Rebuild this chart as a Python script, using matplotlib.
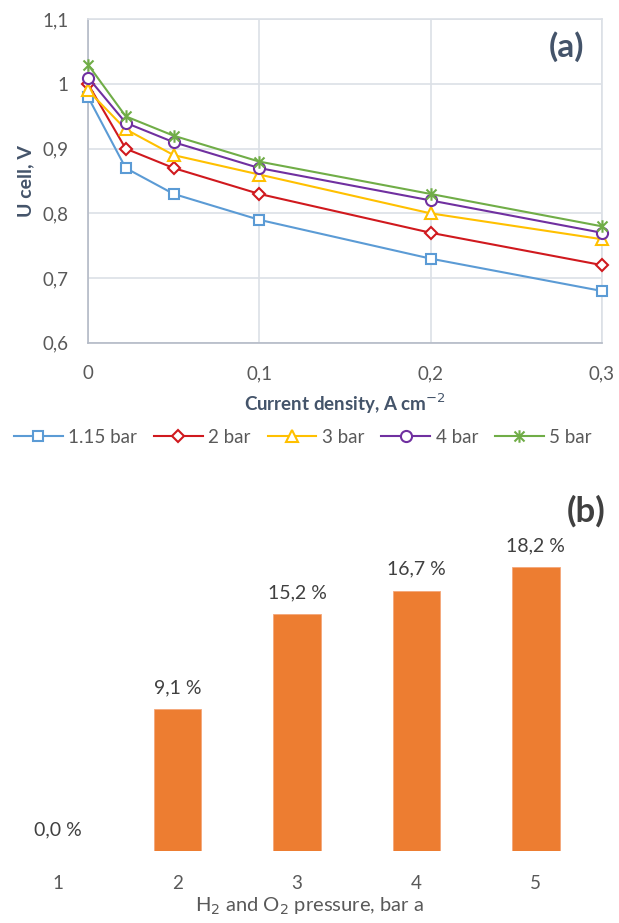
import numpy as np
import matplotlib
matplotlib.use("Agg")
import matplotlib.pyplot as plt
from matplotlib.path import Path
from matplotlib.ticker import FuncFormatter

plt.rcParams['font.family'] = ['Lato', 'DejaVu Sans']

# (a) polarisation curves
current = [0, 0.022, 0.05, 0.1, 0.2, 0.3]
u_115 = [0.98, 0.87, 0.83, 0.79, 0.73, 0.68]
u_2 = [1.00, 0.90, 0.87, 0.83, 0.77, 0.72]
u_3 = [0.99, 0.93, 0.89, 0.86, 0.80, 0.76]
u_4 = [1.01, 0.94, 0.91, 0.87, 0.82, 0.77]
u_5 = [1.03, 0.95, 0.92, 0.88, 0.83, 0.78]
series_labels = ['1.15 bar', '2 bar', '3 bar', '4 bar', '5 bar']

# (b) gain vs pressure
pressure = [1, 2, 3, 4, 5]
gain = [0.0, 9.1, 15.2, 16.7, 18.2]

TICK_C = '#595959'
TITLE_C = '#44546A'
GRID_C = '#DCE0E6'
SPINE_C = '#B4BAC6'
FS = 13.5

def comma(v, pos=None):
    return ('%g' % round(v, 3)).replace('.', ',')

# excel-like asterisk marker
star = Path([(-1, -1), (1, 1), (-1, 1), (1, -1), (0, -1.25), (0, 1.25)],
            [Path.MOVETO, Path.LINETO] * 3)

fig = plt.figure(figsize=(6.19, 9.23), dpi=100)

ax = fig.add_axes([0.1422, 0.6287, 0.830, 0.3504])
styles = [('#5B9BD5', 's', 7.5), ('#D0191E', 'D', 6.5), ('#FFC000', '^', 8),
          ('#7030A0', 'o', 8), ('#70AD47', star, 9)]
for ys, lab, (c, m, ms) in zip([u_115, u_2, u_3, u_4, u_5], series_labels, styles):
    ax.plot(current, ys, color=c, lw=1.5, marker=m, ms=ms, mfc='white' if m is not star else c,
            mec=c, mew=1.5, label=lab, clip_on=False, zorder=3)

ax.set_xlim(0, 0.3)
ax.set_ylim(0.6, 1.1)
ax.set_xticks([0, 0.1, 0.2, 0.3])
ax.set_yticks(np.arange(0.6, 1.11, 0.1))
ax.xaxis.set_major_formatter(FuncFormatter(comma))
ax.yaxis.set_major_formatter(FuncFormatter(comma))
ax.grid(True, color=GRID_C, lw=1.2)
ax.set_axisbelow(True)
for s in ['top', 'right']:
    ax.spines[s].set_color(GRID_C)
    ax.spines[s].set_linewidth(1.2)
for s in ['left', 'bottom']:
    ax.spines[s].set_color(SPINE_C)
    ax.spines[s].set_linewidth(1.2)
ax.tick_params(length=0, labelsize=FS, labelcolor=TICK_C)
ax.tick_params(axis='x', pad=16)
ax.tick_params(axis='y', pad=14)
ax.set_xlabel('Current density, A cm$^{-2}$', fontsize=FS, fontweight='bold',
              color=TITLE_C, labelpad=7)
ax.set_ylabel('U cell, V', fontsize=14, fontweight='bold', color=TITLE_C, labelpad=6)
ax.text(0.965, 0.915, '(a)', transform=ax.transAxes, ha='right', va='center',
        fontsize=24, fontweight='bold', color=TITLE_C)

fig.legend(loc='center', bbox_to_anchor=(0.489, 0.5265), ncol=5, frameon=False,
           fontsize=FS, handlelength=2.6, handletextpad=0.3, columnspacing=0.9,
           labelcolor=TICK_C)

# bottom bar chart
bx = fig.add_axes([0.0, 0.078, 1.0, 0.40])
bx.bar(pressure, gain, width=0.4, color='#ED7D31', edgecolor='#F4A77A', lw=0.6)
bx.set_xlim(0.5136, 5.696)
bx.set_ylim(0, 0.40 * 923 / 15.58)
bx.set_xticks(pressure)
bx.set_yticks([])
for s in bx.spines.values():
    s.set_visible(False)
bx.tick_params(length=0, labelsize=FS, labelcolor=TICK_C, pad=17)
for p, g in zip(pressure, gain):
    bx.annotate(('%.1f %%' % g).replace('.', ','), (p, g), xytext=(0, 11.5),
                textcoords='offset points', ha='center', va='baseline',
                fontsize=14, color='#404040')
bx.set_xlabel('H$_2$ and O$_2$ pressure, bar a', fontsize=14.5, color=TICK_C, labelpad=3)
fig.text(0.978, 1 - 511 / 923, '(b)', ha='right', va='center', fontsize=25,
         fontweight='bold', color='#404040')

fig.savefig('out.png', dpi=100)
